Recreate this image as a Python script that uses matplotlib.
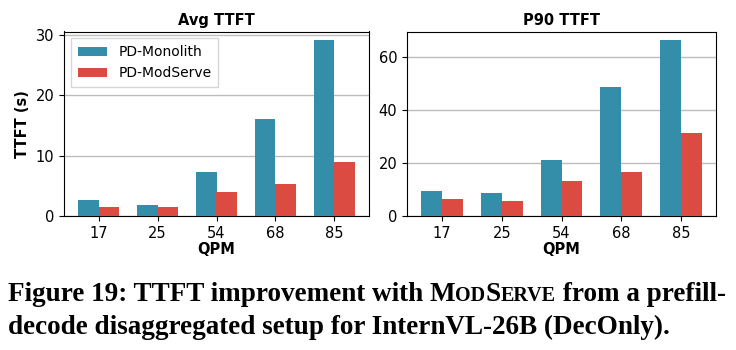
import numpy as np
import matplotlib
matplotlib.use("Agg")
import matplotlib.pyplot as plt

plt.rcParams["font.family"] = "DejaVu Sans"

# --- data ---
qpm = ["17", "25", "54", "68", "85"]
avg_monolith = [2.7, 1.85, 7.3, 16.1, 29.1]
avg_modserve = [1.55, 1.55, 4.0, 5.3, 9.0]
p90_monolith = [9.5, 8.8, 21.2, 48.8, 66.5]
p90_modserve = [6.5, 5.8, 13.3, 16.7, 31.4]

c_mono = "#348ea9"
c_mod = "#dc4b42"

fig = plt.figure(figsize=(7.36, 3.5), dpi=100)
ax1 = fig.add_axes([64 / 736, 1 - 216 / 350, 305 / 736, 184.5 / 350])
ax2 = fig.add_axes([407 / 736, 1 - 216 / 350, 309 / 736, 184.5 / 350])

x = np.arange(len(qpm))
w = 0.35


def draw(ax, mono, mod, title):
    ax.bar(x - w / 2, mono, w, color=c_mono, label="PD-Monolith", zorder=3)
    ax.bar(x + w / 2, mod, w, color=c_mod, label="PD-ModServe", zorder=3)
    ax.set_xticks(x)
    ax.set_xticklabels(qpm, fontsize=10.5)
    ax.tick_params(axis="y", labelsize=10.5)
    ax.set_xlabel("QPM", fontsize=10.5, fontweight="bold", labelpad=1)
    ax.set_title(title, fontsize=10.5, fontweight="bold", pad=5)
    ax.yaxis.grid(True, color="#bdbdbd", linewidth=1)
    ax.set_axisbelow(True)


draw(ax1, avg_monolith, avg_modserve, "Avg TTFT")
draw(ax2, p90_monolith, p90_modserve, "P90 TTFT")
ax1.set_yticks([0, 10, 20, 30])
ax2.set_yticks([0, 20, 40, 60])
ax1.set_ylabel("TTFT (s)", fontsize=10.5, fontweight="bold")
ax1.legend(loc="upper left", fontsize=10, handlelength=2.1, borderpad=0.5,
           labelspacing=0.5, fancybox=False, framealpha=0.8)

# caption with small caps for ModServe
fig.canvas.draw()
renderer = fig.canvas.get_renderer()
cap = dict(family="Liberation Serif", fontweight="bold", color="black")
big, small = 19.5, 14.5


def chain(pieces, x0, y0):
    xp = x0
    for txt, size in pieces:
        t = fig.text(xp, y0, txt, fontsize=size, va="baseline", ha="left", **cap)
        bb = t.get_window_extent(renderer)
        xp += bb.width / fig.bbox.width


chain([("Figure 19: TTFT improvement with ", big), ("M", big), ("OD", small),
       ("S", big), ("ERVE", small), (" from a prefill-", big)],
      8 / 736, 1 - 301 / 350)
chain([("decode disaggregated setup for InternVL-26B (DecOnly).", big)],
      8 / 736, 1 - 334 / 350)

fig.savefig("out.png", dpi=100)
